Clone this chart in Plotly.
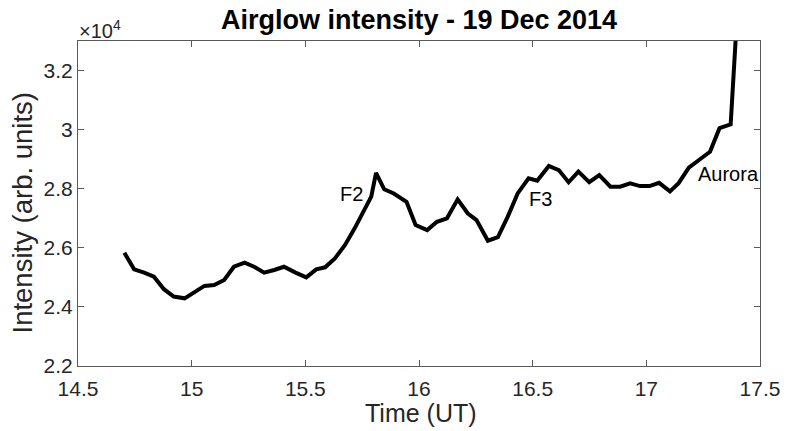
import plotly.graph_objects as go

time_ut = [14.704, 14.747, 14.791, 14.834, 14.878, 14.921, 14.969, 15.012, 15.056, 15.099,
           15.143, 15.186, 15.233, 15.277, 15.319, 15.363, 15.406, 15.457, 15.504, 15.548,
           15.587, 15.630, 15.674, 15.717, 15.765, 15.790, 15.811, 15.847, 15.889, 15.945,
           15.985, 16.036, 16.079, 16.123, 16.170, 16.214, 16.253, 16.303, 16.347, 16.390,
           16.434, 16.482, 16.520, 16.571, 16.615, 16.658, 16.701, 16.749, 16.793, 16.842,
           16.885, 16.929, 16.972, 17.014, 17.056, 17.104, 17.142, 17.187, 17.233, 17.280,
           17.322, 17.371, 17.414]
intensity = [25830, 25270, 25160, 25020, 24600, 24350, 24290, 24510, 24710, 24740,
             24910, 25360, 25500, 25350, 25160, 25250, 25360, 25160, 25000, 25270,
             25340, 25640, 26090, 26660, 27340, 27730, 28540, 27980, 27840, 27560,
             26770, 26600, 26880, 27000, 27640, 27170, 26940, 26240, 26360, 27050,
             27840, 28350, 28270, 28770, 28630, 28220, 28580, 28220, 28460, 28070,
             28070, 28180, 28090, 28090, 28200, 27910, 28190, 28710, 28980, 29250,
             30050, 30180, 35800]

x_ticks = [14.5, 15, 15.5, 16, 16.5, 17, 17.5]
x_tick_labels = ["14.5", "15", "15.5", "16", "16.5", "17", "17.5"]
y_ticks = [22000, 24000, 26000, 28000, 30000, 32000]
y_tick_labels = ["2.2", "2.4", "2.6", "2.8", "3", "3.2"]

labels = ["F2", "F3", "Aurora"]
label_x = [15.645, 16.475, 17.22]
label_y = [27810, 27660, 28500]

font = "Liberation Sans, Arial, sans-serif"
axcol = "#262626"
boxcol = "#5a5a5a"

fig = go.Figure()
fig.add_trace(go.Scatter(x=time_ut, y=intensity, mode="lines",
                         line=dict(color="black", width=4), showlegend=False,
                         hoverinfo="skip"))

for t, xv, yv in zip(labels, label_x, label_y):
    fig.add_annotation(x=xv, y=yv, text=t, showarrow=False, xanchor="left",
                       yanchor="middle",
                       font=dict(family=font, size=20, color="black"))

fig.add_annotation(xref="paper", yref="paper", x=0, y=1.0, xanchor="left",
                   yanchor="bottom", xshift=-1, yshift=-3, text="×10<sup>4</sup>",
                   showarrow=False,
                   font=dict(family=font, size=20, color=axcol))

# axis titles as annotations for exact placement
fig.add_annotation(xref="paper", yref="paper", x=0.5, y=0, xanchor="center",
                   yanchor="middle", yshift=-47, xshift=2, text="Time (UT)", showarrow=False,
                   font=dict(family=font, size=25, color=axcol))
fig.add_annotation(xref="paper", yref="paper", x=0, y=0.5, xanchor="center",
                   yanchor="middle", xshift=-56, yshift=-10, text="Intensity (arb. units)",
                   textangle=-90, showarrow=False,
                   font=dict(family=font, size=27.5, color=axcol))

fig.update_layout(
    width=792, height=431,
    margin=dict(l=78, r=23, t=41, b=65),
    paper_bgcolor="white", plot_bgcolor="white",
    title=dict(text="<b>Airglow intensity - 19 Dec 2014</b>", xref="paper", x=0.5,
               xanchor="center", y=0.955, yanchor="middle",
               font=dict(family=font, size=27, color="black")),
    xaxis=dict(range=[14.5, 17.5], tickvals=x_ticks, ticktext=x_tick_labels,
               ticks="inside", ticklen=6, tickcolor=boxcol, showline=True, linecolor=boxcol,
               linewidth=1, mirror="ticks", showgrid=False, zeroline=False,
               ticklabelstandoff=4,
               tickfont=dict(family=font, size=21, color=axcol)),
    yaxis=dict(range=[22000, 33000], tickvals=y_ticks, ticktext=y_tick_labels,
               ticks="inside", ticklen=6, tickcolor=boxcol, showline=True, linecolor=boxcol,
               linewidth=1, mirror="ticks", showgrid=False, zeroline=False,
               tickfont=dict(family=font, size=21, color=axcol)),
)

fig.write_html("out.html", config={"displayModeBar": False},
               post_script="document.body.style.margin='0';document.body.style.overflow='hidden';")
